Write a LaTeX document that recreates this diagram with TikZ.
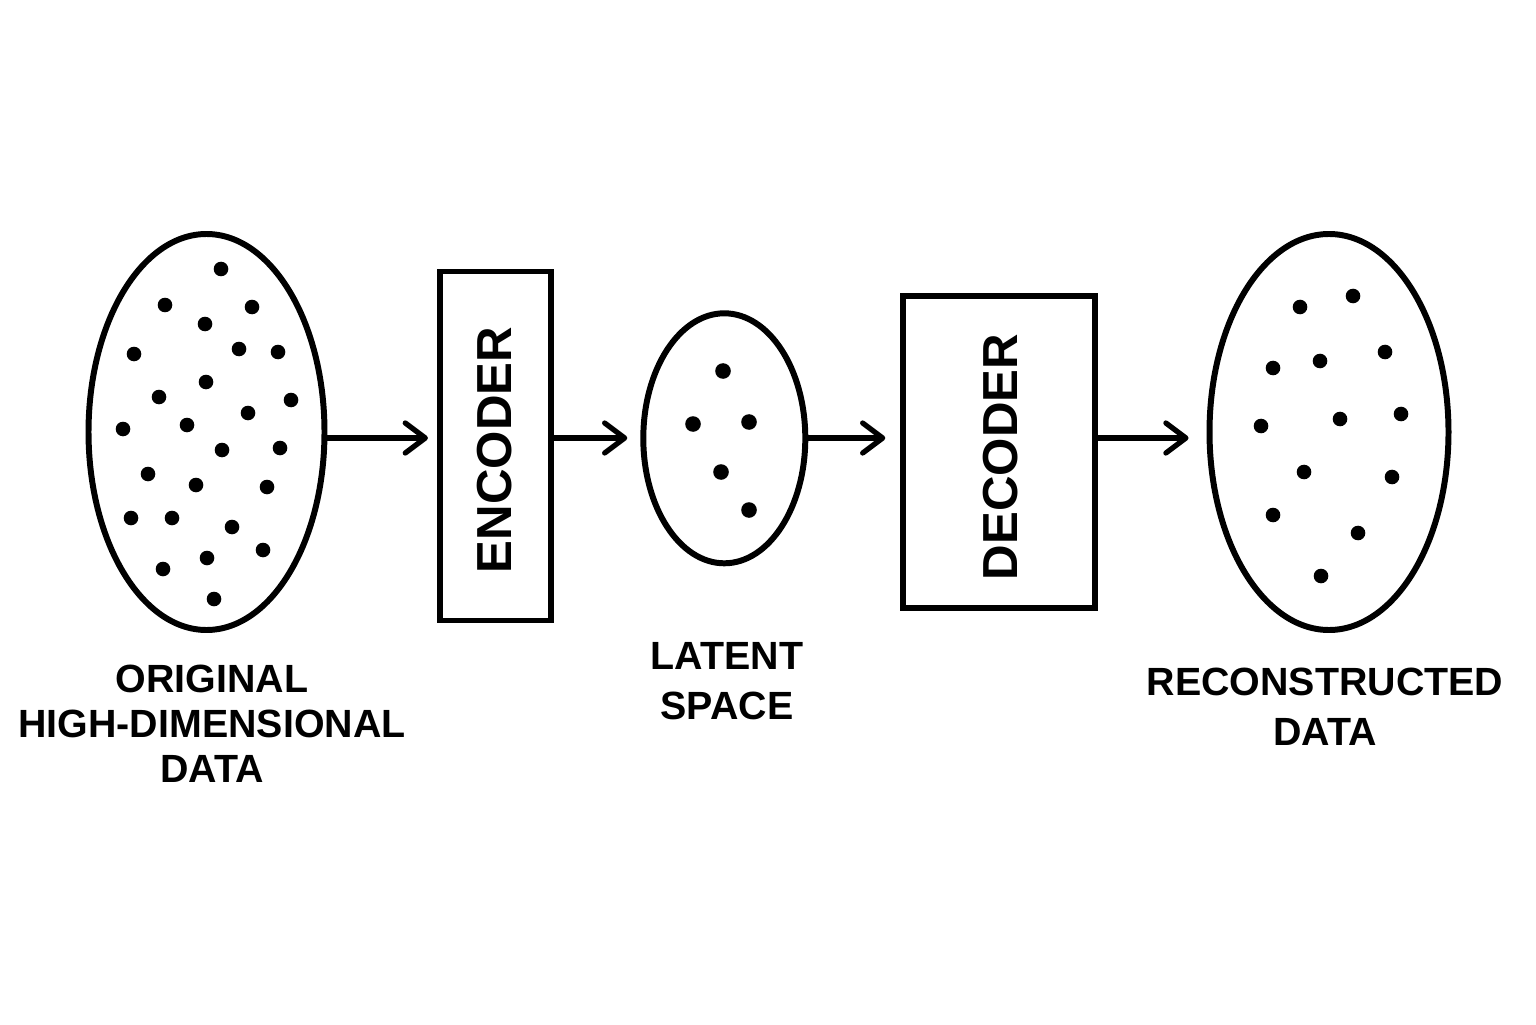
\documentclass[tikz,border=0pt]{standalone}
\usepackage{fontspec}
\setmainfont{Liberation Sans}
\usetikzlibrary{shapes.geometric,arrows.meta}

\tikzset{
  blob/.style={draw, ellipse, line width=1.7pt, inner sep=0pt},
  block/.style={draw, rectangle, line width=1.7pt, inner sep=0pt},
  flow/.style={line width=1.5pt, -{Straight Barb[length=2mm,width=3mm,round]}, shorten >=0.13cm},
  lbl/.style={align=center, font=\fontsize{11.2}{14.2}\selectfont\bfseries},
  blocktext/.style={rotate=90, font=\fontsize{14}{16}\selectfont\bfseries},
}

\begin{document}
\begin{tikzpicture}
    \useasboundingbox[fill=white] (0,0) rectangle (15.36,10.24);

    % Shapes
    \node[blob, minimum width=2.36cm, minimum height=3.96cm] (orig) at (2.065,5.92) {};
    \node[block, minimum width=1.11cm, minimum height=3.49cm] (enc) at (4.954,5.78) {};
    \node[blob, minimum width=1.62cm, minimum height=2.50cm] (latent) at (7.243,5.857) {};
    \node[block, minimum width=1.92cm, minimum height=3.12cm] (dec) at (9.993,5.72) {};
    \node[blob, minimum width=2.39cm, minimum height=3.96cm] (recon) at (13.29,5.92) {};

    % Box texts
    \node[blocktext] (enctxt) at (4.95,5.74) {ENCODER};
    \node[blocktext] (dectxt) at (10.01,5.67) {DECODER};

    % Data points
    \foreach \p in {(2.21,7.55),(1.65,7.19),(2.52,7.17),(2.05,7.00),(1.34,6.70),
                    (2.39,6.75),(2.78,6.72),(2.06,6.42),(1.59,6.27),(2.91,6.24),
                    (2.48,6.11),(1.23,5.95),(1.87,5.99),(2.22,5.74),(2.80,5.76),
                    (1.48,5.50),(1.96,5.39),(2.67,5.37),(1.31,5.06),(1.72,5.06),
                    (2.32,4.97),(2.63,4.74),(2.07,4.66),(1.63,4.55),(2.14,4.25)}
        \fill \p circle (0.073);
    \foreach \p in {(7.23,6.53),(6.93,6.00),(7.49,6.02),(7.21,5.52),(7.49,5.14)}
        \fill \p circle (0.078);
    \foreach \p in {(13.53,7.28),(13.00,7.17),(13.85,6.72),(13.20,6.63),(12.73,6.56),
                    (14.01,6.10),(13.40,6.05),(12.61,5.98),(13.04,5.52),(13.92,5.47),
                    (12.73,5.09),(13.58,4.91),(13.21,4.48)}
        \fill \p circle (0.073);

    % Connectors
    \coordinate (axis) at (0,5.86);
    \draw[flow, shorten >=0.09cm] (orig.east |- axis) -- (enc.west |- axis);
    \draw[flow] (enc.east |- axis) -- (latent.west |- axis);
    \draw[flow, shorten >=0.15cm] (latent.east |- axis) -- (dec.west |- axis);
    \draw[flow, shorten >=0.18cm] (dec.east |- axis) -- (recon.west |- axis);

    % Labels
    \node[lbl, font=\fontsize{11.2}{12.8}\selectfont\bfseries] (origlbl) at (2.12,3.005) {ORIGINAL\\HIGH-DIMENSIONAL\\DATA};
    \node[lbl] (latentlbl) at (7.27,3.427) {LATENT\\SPACE};
    \node[lbl] (reconlbl) at (13.25,3.173) {RECONSTRUCTED\\DATA};
\end{tikzpicture}
\end{document}
